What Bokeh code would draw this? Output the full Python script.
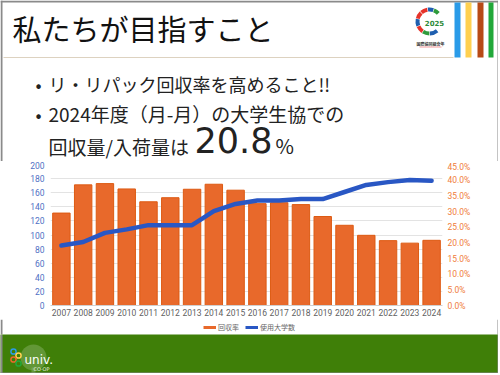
from bokeh.plotting import figure
from bokeh.models import (Range1d, FactorRange, LinearAxis, FixedTicker,
                          PrintfTickFormatter, Legend, LegendItem)
from bokeh.layouts import column
from bokeh.embed import file_html
from bokeh.resources import INLINE
from bokeh.core.properties import value

# ---------------- data ----------------
years = ["2007", "2008", "2009", "2010", "2011", "2012", "2013", "2014", "2015",
         "2016", "2017", "2018", "2019", "2020", "2021", "2022", "2023", "2024"]
recovery_rate = [29.5, 38.5, 38.9, 37.2, 33.1, 34.4, 37.1, 38.7, 36.8,
                 32.5, 32.8, 32.2, 28.4, 25.6, 22.4, 20.7, 19.9, 20.8]
universities = [85, 90, 103, 108, 114, 114, 114, 134, 144,
                149, 149, 151, 151, 161, 171, 175, 178, 177]
left_ticks = [0, 20, 40, 60, 80, 100, 120, 140, 160, 180, 200]
right_ticks = [0, 5, 10, 15, 20, 25, 30, 35, 40, 45]
legend_labels = ["回収率", "使用大学数"]

title_text = "私たちが目指すこと"
bullet1 = "リ・リパック回収率を高めること!!"
bullet2 = "2024年度（月-月）の大学生協での"
bullet3 = "回収量/入荷量は"
big_value = "20.8"
percent_sign = "%"

# ---------------- styles ----------------
W = 498
JP = "Noto Sans CJK JP"
ORANGE = "#E8692B"
ORANGE_EDGE = "#DD5A12"
BLUE = "#2957C4"
GREEN = "#3F7F08"
FRAME = "#8A8A8A"
HEADER_H = 161


def blank(height, y0, y1, **kw):
    fig = figure(width=W, height=height, x_range=Range1d(0, W), y_range=Range1d(y1, y0),
                 x_axis_type=None, y_axis_type=None, toolbar_location=None,
                 output_backend="svg", min_border=0, outline_line_color=None,
                 frame_align=False, **kw)
    return fig


# ---------------- header ----------------
h = blank(HEADER_H, 0, HEADER_H)
h.quad(left=[0, 0, 497], right=[2, W, W], top=[0, 0, 0],
       bottom=[HEADER_H, 2, HEADER_H], fill_color=FRAME, line_color=None)
h.line(x=[3, 453], y=[57, 57], line_color="#DDD2C0", line_width=1)
h.quad(left=[454, 465, 477, 488], right=[460, 471, 483, 493],
       top=[2, 2, 2, 2], bottom=[57, 57, 57, 57],
       fill_color=["#2A9BE8", "#FFD050", "#B84A16", "#22A83A"], line_color=None)

# 2025 logo (approximate)
seg_start = [0.75, 1.25, 1.75, 2.35, 2.95, 3.55, 4.15, 4.75]
seg_end = [1.2, 1.7, 2.3, 2.9, 3.5, 4.1, 4.7, 5.4]
seg_col = ["#2E9B3B", "#1F5FAF", "#E6332A", "#E6332A", "#1F5FAF", "#E6332A", "#2E9B3B", "#1F5FAF"]
h.annular_wedge(x=429, y=21, inner_radius=10, outer_radius=14,
                start_angle=seg_start, end_angle=seg_end,
                fill_color=seg_col, line_color=None)
h.text(x=[434], y=[22], text=["2025"], text_font=value("DejaVu Sans"),
       text_font_size=value("7px"), text_font_style="bold", text_color="#2E8B3A",
       text_align="center", text_baseline="middle")
h.text(x=[430], y=[43], text=["国際協同組合年"], text_font=value(JP),
       text_font_size=value("4px"), text_font_style="bold", text_color="#333333",
       text_align="center", text_baseline="middle")
h.line(x=[419, 441], y=[46.5, 46.5], line_color="#F08080", line_width=0.8)

h.text(x=[12], y=[27.5], text=[title_text], text_font=value(JP),
       text_font_size=value("29px"), text_color="#111111",
       text_align="left", text_baseline="middle")

h.text(x=[38, 38], y=[83, 113], text=["•", "•"], text_font=value(JP),
       text_font_size=value("18px"), text_color="#222222",
       text_align="center", text_baseline="middle")
h.text(x=[48], y=[83], text=[bullet1],
       text_font=value(JP), text_font_size=value("18px"), text_color="#222222",
       text_align="left", text_baseline="middle")
h.text(x=[48, 48], y=[113, 145.5], text=[bullet2, bullet3],
       text_font=value(JP), text_font_size=value("19px"), text_color="#222222",
       text_align="left", text_baseline="middle")
h.text(x=[194], y=[139.5], text=[big_value], text_font=value("DejaVu Sans"),
       text_font_size=value("35px"), text_color="#222222",
       text_align="left", text_baseline="middle")
h.text(x=[275], y=[145], text=[percent_sign], text_font=value(JP),
       text_font_size=value("20px"), text_color="#222222",
       text_align="left", text_baseline="middle")

# ---------------- chart ----------------
p = figure(width=W, height=319 - HEADER_H, x_range=FactorRange(*years),
           y_range=Range1d(0, 200), toolbar_location=None, output_backend="svg",
           min_border_left=50, min_border_right=W - 442, min_border_top=164 - HEADER_H,
           min_border_bottom=14, outline_line_color=None)
p.extra_y_ranges = {"pct": Range1d(0, 45)}

p.vbar(x=years, top=recovery_rate, width=0.8, y_range_name="pct",
       fill_color=ORANGE, line_color=ORANGE_EDGE, line_width=1)
p.line(x=years, y=universities, line_color=BLUE, line_width=4.5,
       line_join="round", line_cap="round")

p.xgrid.visible = False
p.ygrid.grid_line_color = "#E3E3E3"
p.ygrid.grid_line_width = 1

right = LinearAxis(y_range_name="pct", ticker=FixedTicker(ticks=right_ticks),
                   formatter=PrintfTickFormatter(format="%.1f%%"))
p.add_layout(right, "right")
p.yaxis[0].ticker = FixedTicker(ticks=left_ticks)

for ax in [p.yaxis[0], right, p.xaxis[0]]:
    ax.axis_line_color = None
    ax.major_tick_line_color = None
    ax.minor_tick_line_color = None
    ax.major_tick_out = 0
    ax.major_tick_in = 0
    ax.minor_tick_out = 0
    ax.minor_tick_in = 0
    ax.major_label_text_font = "Roboto"
    ax.major_label_text_font_size = "8.5px"

p.yaxis[0].major_label_standoff = 6
p.yaxis[0].major_label_text_color = "#4F6FC4"
right.major_label_standoff = 5
right.major_label_text_color = "#F07D3A"
p.xaxis[0].axis_line_color = "#D0D0D0"
p.xaxis[0].major_label_standoff = 3
p.xaxis[0].major_label_text_color = "#5F5F5F"

# ---------------- legend band ----------------
lg = blank(15, 319, 334)
lg.quad(left=[0, 497], right=[2, W], top=[319, 319], bottom=[334, 334],
        fill_color=FRAME, line_color=None)
leg_orange = lg.line(x=[-50], y=[0], line_color=ORANGE, line_width=3)
leg_blue = lg.line(x=[-50], y=[0], line_color=BLUE, line_width=3)
legend = Legend(items=[LegendItem(label=legend_labels[0], renderers=[leg_orange]),
                       LegendItem(label=legend_labels[1], renderers=[leg_blue])],
                orientation="horizontal", location="center",
                glyph_width=13, glyph_height=8, label_standoff=2, spacing=6,
                padding=0, margin=0, label_height=8,
                label_text_font=JP, label_text_font_size="7px",
                label_text_color="#666666",
                background_fill_alpha=0, border_line_color=None)
lg.add_layout(legend)

# ---------------- footer ----------------
f = blank(39, 334, 373, background_fill_color=GREEN, border_fill_color=GREEN)
f.circle(x=[33], y=[357], radius=13, fill_color="#8DB56E", fill_alpha=0.45, line_color=None)
f.quad(left=[31], right=[35], top=[367], bottom=[373], fill_color="#8DB56E",
       fill_alpha=0.45, line_color=None)
f.circle(x=[13, 18, 13, 18], y=[351, 355, 359, 363], radius=2.6, fill_alpha=0,
         line_color=["#2A9BE8", "#FFD050", "#E8692B", "#22A83A"], line_width=1.5)
f.text(x=[24], y=[359], text=["univ."], text_font=value("DejaVu Sans"),
       text_font_size=value("12px"), text_color="white",
       text_align="left", text_baseline="middle")
f.text(x=[41], y=[368], text=["CO·OP"], text_font=value("DejaVu Sans"),
       text_font_size=value("5px"), text_color="#E8F0E0",
       text_align="center", text_baseline="middle")
f.quad(left=[0, 497, 0], right=[2, W, W], top=[334, 334, 372], bottom=[373, 373, 373],
       fill_color=FRAME, line_color=None)

layout = column(h, p, lg, f, spacing=0)
open("out.html", "w").write(file_html(layout, INLINE))
